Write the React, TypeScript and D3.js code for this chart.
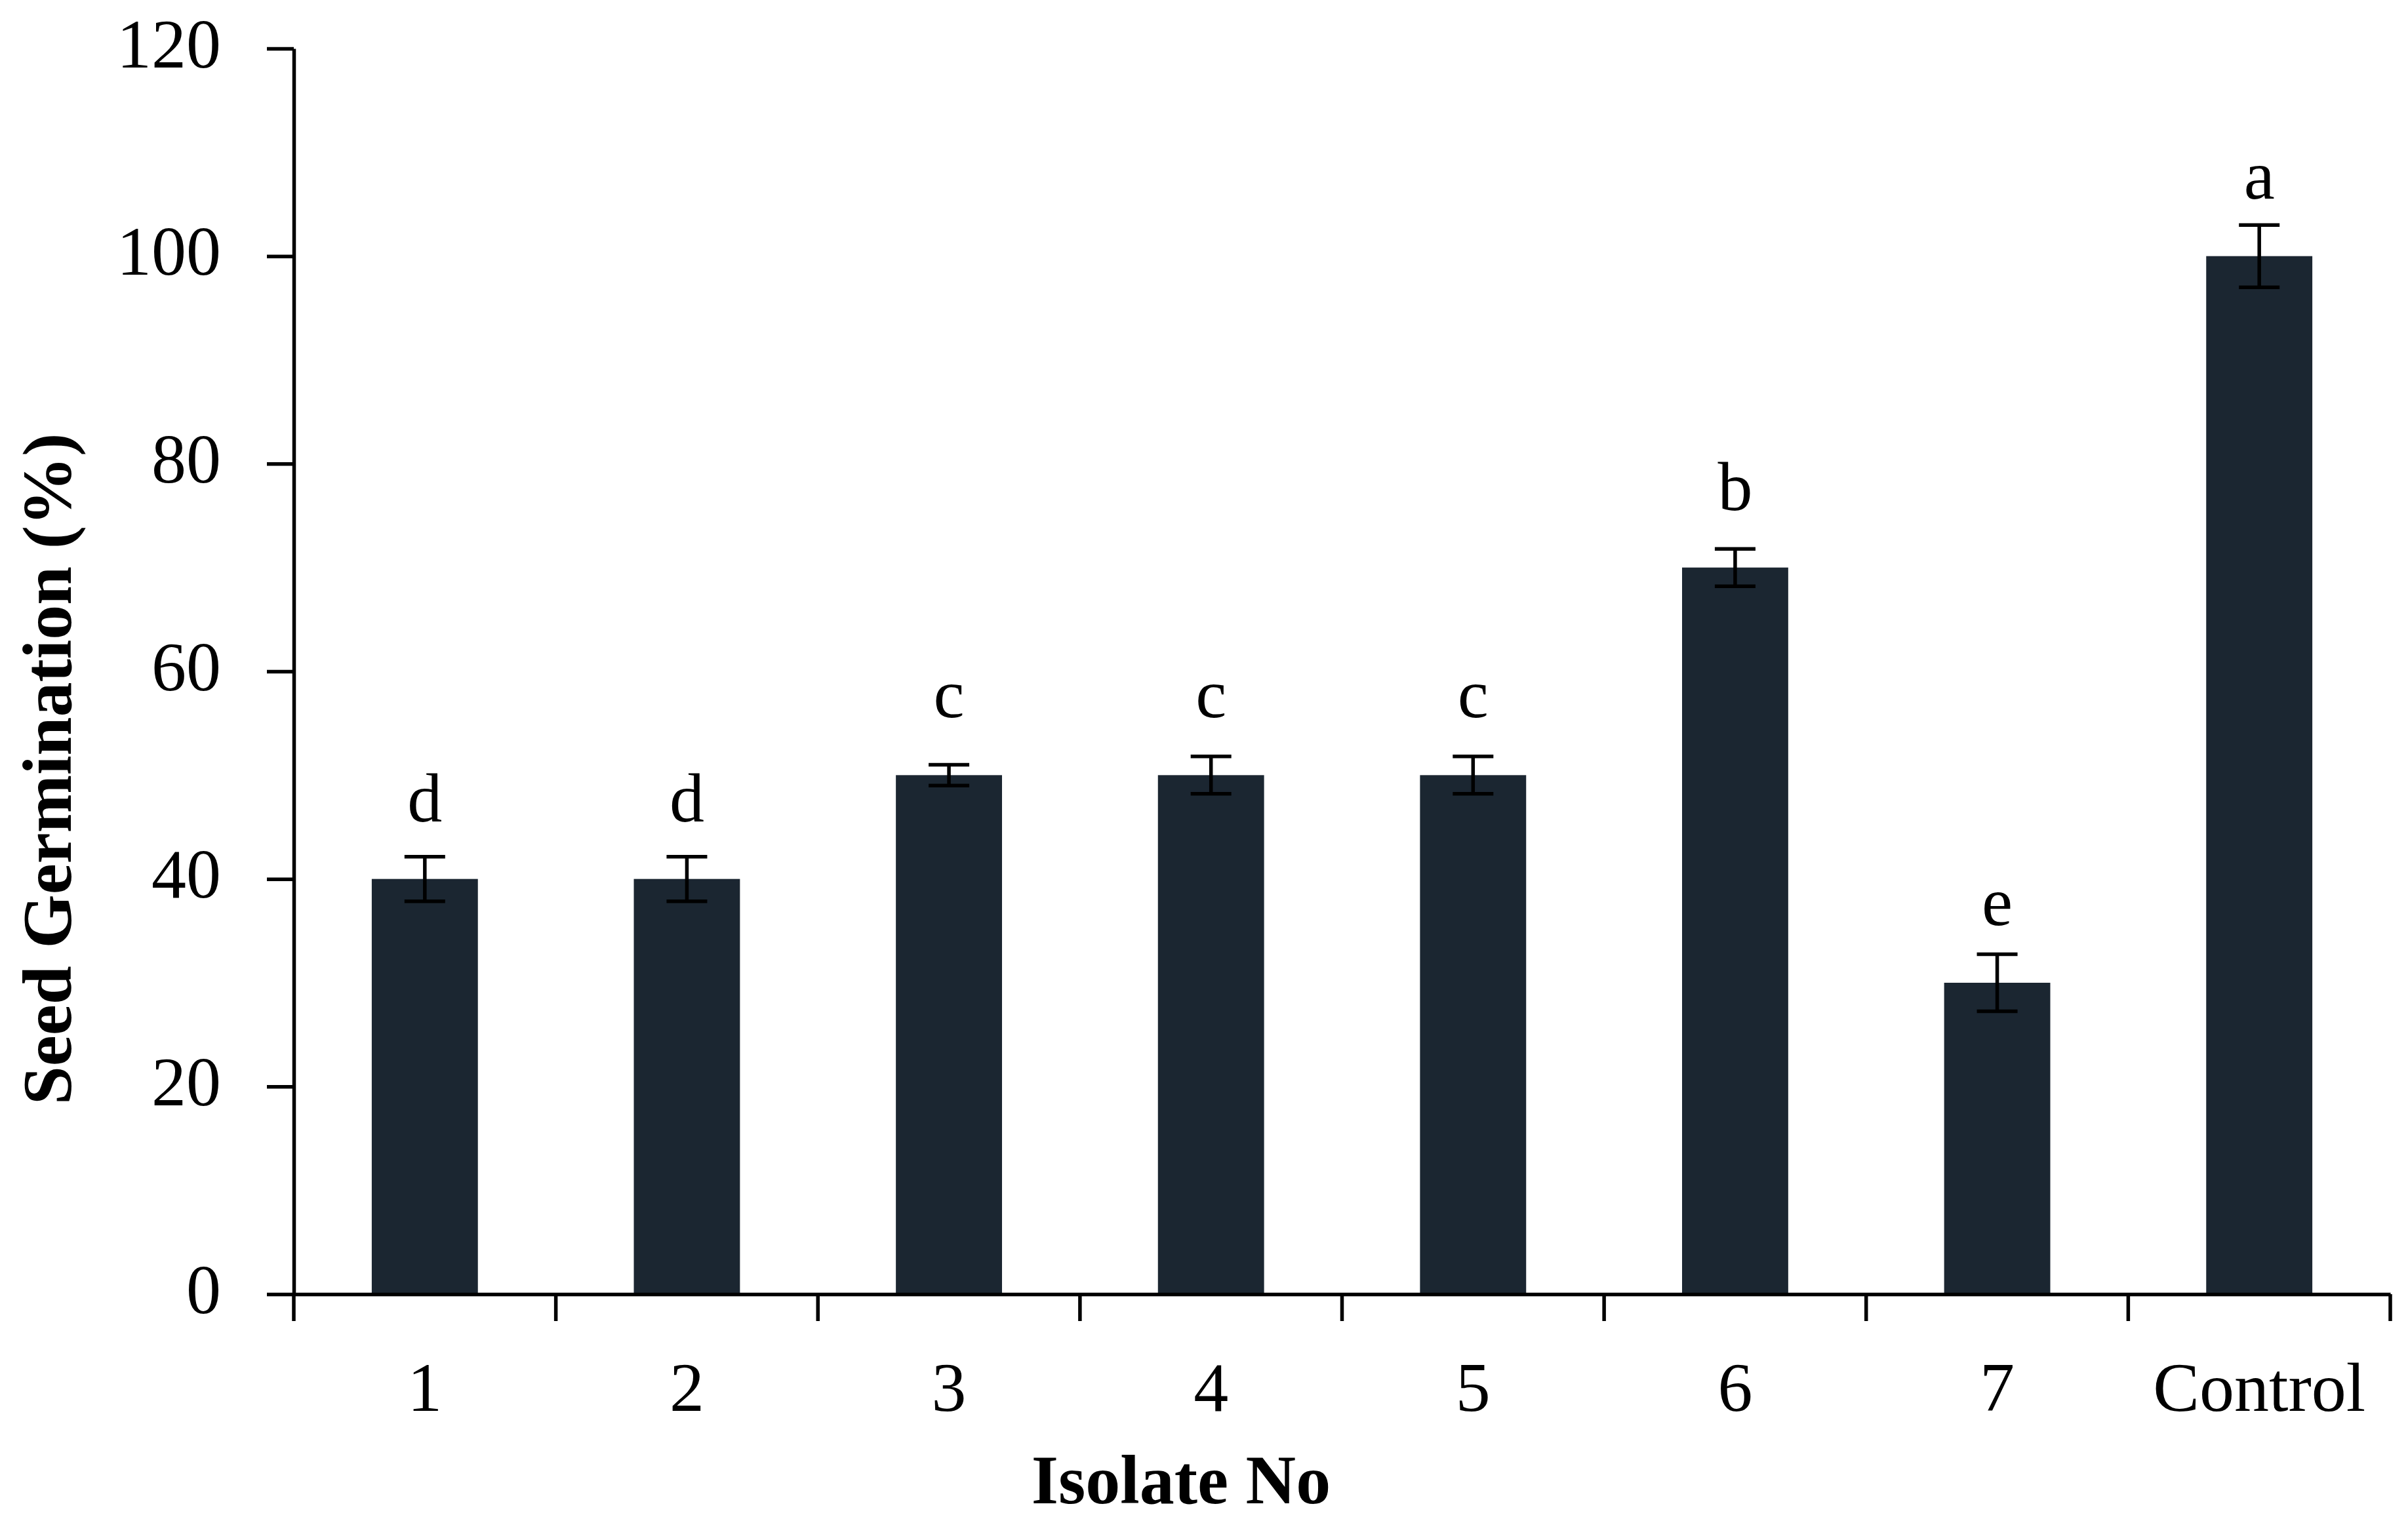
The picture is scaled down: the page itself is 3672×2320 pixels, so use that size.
import { useEffect, useRef } from 'react';
import * as d3 from 'd3';

// Datos
const isolates = ['1', '2', '3', '4', '5', '6', '7', 'Control'];
const germination = [40, 40, 50, 50, 50, 70, 30, 100];
const errors = [2.15, 2.15, 1.0, 1.8, 1.8, 1.8, 2.75, 3.0];
const letters = ['d', 'd', 'c', 'c', 'c', 'b', 'e', 'a'];
const yTicks = [0, 20, 40, 60, 80, 100, 120];

const WIDTH = 3672;
const HEIGHT = 2320;
const FONT = '"Liberation Serif", "Times New Roman", serif';

export default function App() {
  const chartRef = useRef<SVGSVGElement>(null);

  useEffect(() => {
    document.body.style.margin = '0';
    const svg = d3.select(chartRef.current);
    svg.selectAll('*').remove();

    const margin = { top: 74, right: 27, bottom: 346, left: 448 };
    const chartWidth = WIDTH - margin.left - margin.right;
    const chartHeight = HEIGHT - margin.top - margin.bottom;

    const g = svg.append('g').attr('transform', `translate(${margin.left},${margin.top})`);

    const x = d3.scaleBand().domain(isolates).range([0, chartWidth]).paddingInner(0).paddingOuter(0);
    const barW = x.bandwidth() * 0.405;

    const y = d3.scaleLinear().domain([0, 120]).range([chartHeight, 0]);

    const data = isolates.map((name, i) => ({
      name,
      value: germination[i],
      err: errors[i],
      letter: letters[i],
    }));

    // Barras
    g.selectAll('.bar')
      .data(data)
      .enter().append('rect')
      .attr('x', d => x(d.name)! + (x.bandwidth() - barW) / 2)
      .attr('y', d => y(d.value))
      .attr('width', barW)
      .attr('height', d => chartHeight - y(d.value))
      .attr('fill', '#1b2631');

    // Barras de error
    const cap = 31;
    const errG = g.selectAll('.err').data(data).enter().append('g')
      .attr('transform', d => `translate(${x(d.name)! + x.bandwidth() / 2},0)`)
      .attr('stroke', '#000')
      .attr('stroke-width', 5.5);
    errG.append('line')
      .attr('x1', 0).attr('x2', 0)
      .attr('y1', d => y(d.value + d.err)).attr('y2', d => y(d.value - d.err));
    errG.append('line')
      .attr('x1', -cap).attr('x2', cap)
      .attr('y1', d => y(d.value + d.err)).attr('y2', d => y(d.value + d.err));
    errG.append('line')
      .attr('x1', -cap).attr('x2', cap)
      .attr('y1', d => y(d.value - d.err)).attr('y2', d => y(d.value - d.err));

    // Letras de significancia
    g.selectAll('.letter')
      .data(data)
      .enter().append('text')
      .attr('x', d => x(d.name)! + x.bandwidth() / 2)
      .attr('y', d => y(d.value) - 88)
      .attr('text-anchor', 'middle')
      .style('font-family', FONT)
      .style('font-size', '106px')
      .text(d => d.letter);

    // Eje Y
    const yAxis = g.append('g')
      .call(d3.axisLeft(y).tickValues(yTicks).tickSize(41).tickSizeOuter(0).tickPadding(70));
    yAxis.select('.domain').attr('stroke', '#000').attr('stroke-width', 5.5);
    yAxis.selectAll('.tick line').attr('stroke', '#000').attr('stroke-width', 5.5);
    yAxis.selectAll('.tick text')
      .attr('dy', 28)
      .attr('fill', '#000')
      .style('font-family', FONT)
      .style('font-size', '106px');

    // Eje X
    const xAxis = g.append('g')
      .attr('transform', `translate(0,${chartHeight})`)
      .call(d3.axisBottom(x).tickSize(0).tickSizeOuter(0).tickPadding(0));
    xAxis.select('.domain').attr('stroke', '#000').attr('stroke-width', 5.5);
    xAxis.selectAll('.tick text')
      .attr('y', 178)
      .attr('dy', 0)
      .attr('fill', '#000')
      .style('font-family', FONT)
      .style('font-size', '106px');

    // Marcas entre categorías
    const bounds = isolates.map(d => x(d)!).concat([chartWidth]);
    g.selectAll('.xtick')
      .data(bounds)
      .enter().append('line')
      .attr('x1', d => d).attr('x2', d => d)
      .attr('y1', chartHeight).attr('y2', chartHeight + 41)
      .attr('stroke', '#000')
      .attr('stroke-width', 5.5);

    // Títulos de ejes
    svg.append('text')
      .attr('x', 1801)
      .attr('y', 2293)
      .attr('text-anchor', 'middle')
      .style('font-family', FONT)
      .style('font-weight', 'bold')
      .style('font-size', '106px')
      .text('Isolate No');

    svg.append('text')
      .attr('transform', 'translate(108,1173) rotate(-90)')
      .attr('text-anchor', 'middle')
      .style('font-family', FONT)
      .style('font-weight', 'bold')
      .style('font-size', '106px')
      .text('Seed Germination (%)');
  }, []);

  return (
    <svg
      ref={chartRef}
      width={WIDTH}
      height={HEIGHT}
      style={{ position: 'absolute', left: 0, top: 0, background: '#fff' }}
    />
  );
}
